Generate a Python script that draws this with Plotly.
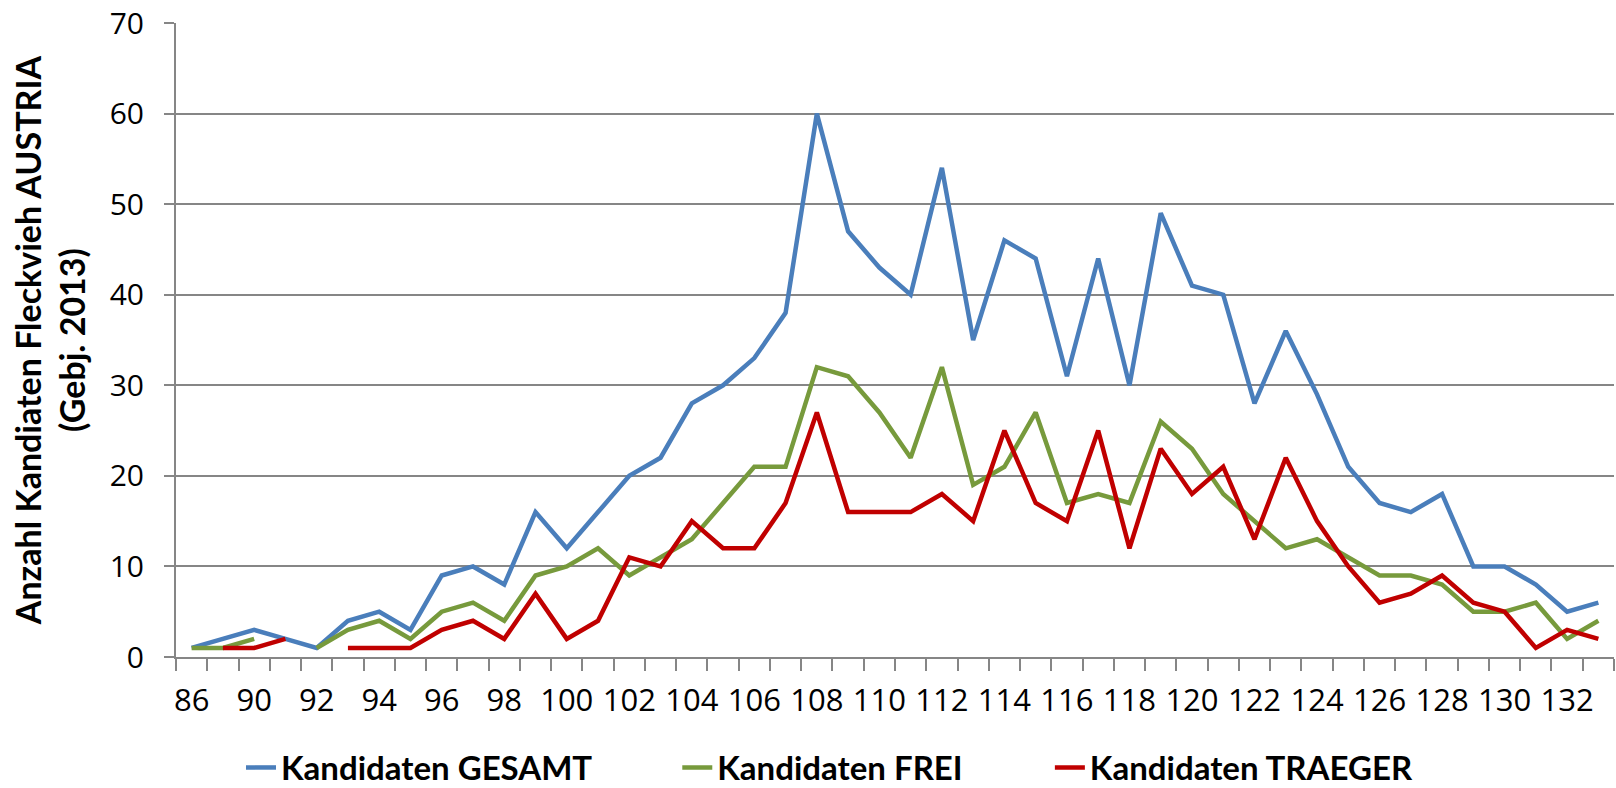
import plotly.graph_objects as go

# Kategorien (Zuchtwert-Klassen)
categories = ["86", "88", "90"] + [str(v) for v in range(91, 134)]

gesamt = [1, 2, 3, 2, 1, 4, 5, 3, 9, 10, 8, 16, 12, 16, 20, 22, 28, 30, 33, 38,
          60, 47, 43, 40, 54, 35, 46, 44, 31, 44, 30, 49, 41, 40, 28, 36, 29, 21,
          17, 16, 18, 10, 10, 8, 5, 6]
frei = [1, 1, 2, None, 1, 3, 4, 2, 5, 6, 4, 9, 10, 12, 9, 11, 13, 17, 21, 21,
        32, 31, 27, 22, 32, 19, 21, 27, 17, 18, 17, 26, 23, 18, 15, 12, 13, 11,
        9, 9, 8, 5, 5, 6, 2, 4]
traeger = [None, 1, 1, 2, None, 1, 1, 1, 3, 4, 2, 7, 2, 4, 11, 10, 15, 12, 12, 17,
           27, 16, 16, 16, 18, 15, 25, 17, 15, 25, 12, 23, 18, 21, 13, 22, 15, 10,
           6, 7, 9, 6, 5, 1, 3, 2]

series = [
    ("Kandidaten GESAMT", gesamt, "#4A7EBB", "legend", 0.0452),
    ("Kandidaten FREI", frei, "#779A3C", "legend2", 0.3486),
    ("Kandidaten TRAEGER", traeger, "#C00000", "legend3", 0.6077),
]

LEGEND_FONT = dict(size=33, family="Lato, sans-serif", weight="bold", color="black")

fig = go.Figure()
legends = {}
for name, vals, color, leg, lx in series:
    fig.add_trace(go.Scatter(
        x=categories, y=vals, name=name, mode="lines",
        line=dict(color=color, width=4.5),
        connectgaps=False, legend=leg,
    ))
    legends[leg] = dict(
        orientation="h", x=lx, xanchor="left",
        yref="container", y=0.026, yanchor="middle",
        font=LEGEND_FONT, bgcolor="rgba(0,0,0,0)", itemwidth=30,
    )

tick_text = [c if i % 2 == 0 else "" for i, c in enumerate(categories)]

fig.update_layout(
    width=1616, height=788,
    paper_bgcolor="white", plot_bgcolor="white",
    margin=dict(l=176, r=2, t=23, b=131),
    showlegend=True,
    **legends,
    xaxis=dict(
        type="category",
        tickmode="array", tickvals=categories, ticktext=tick_text,
        tickson="boundaries", ticks="outside", ticklen=12, tickwidth=2,
        tickcolor="#868686", showline=True, linecolor="#868686", linewidth=2,
        showgrid=False, tickangle=0, ticklabelstandoff=15,
        tickfont=dict(size=31, family="Open Sans, sans-serif", color="black"),
        range=[-0.5, len(categories) - 0.5],
    ),
    yaxis=dict(
        range=[0, 70], dtick=10, showgrid=True, gridcolor="#868686", gridwidth=1.5,
        showline=True, linecolor="#868686", linewidth=2,
        ticks="outside", ticklen=10, tickwidth=2, tickcolor="#868686",
        ticklabelstandoff=14,
        tickfont=dict(size=30, family="Open Sans, sans-serif", color="black"),
        zeroline=False,
        title=dict(
            text="Anzahl Kandiaten Fleckvieh AUSTRIA<br>(Gebj. 2013)",
            font=dict(size=34, family="Lato, sans-serif", weight="bold", color="black"),
            standoff=14,
        ),
    ),
)

fig.write_html("out.html")
